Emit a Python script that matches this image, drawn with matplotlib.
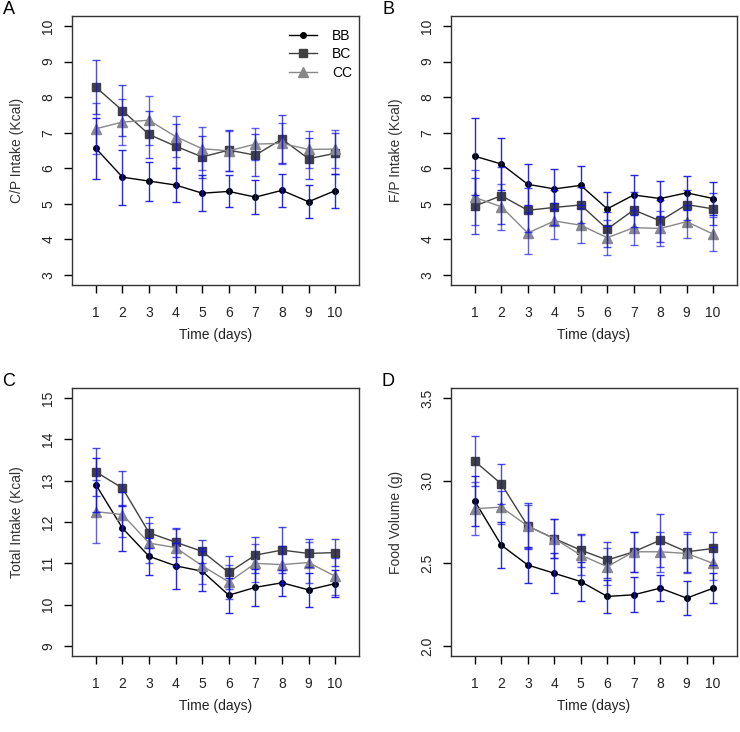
import matplotlib
matplotlib.use("Agg")
import matplotlib.pyplot as plt

plt.rcParams["font.family"] = ["Liberation Sans", "DejaVu Sans"]

days = [1, 2, 3, 4, 5, 6, 7, 8, 9, 10]
groups = ["BB", "BC", "CC"]

# A: C/P intake
cp_bb = [6.56, 5.75, 5.64, 5.53, 5.30, 5.35, 5.19, 5.38, 5.06, 5.37]
cp_bb_err = [0.85, 0.77, 0.55, 0.47, 0.50, 0.45, 0.48, 0.46, 0.47, 0.48]
cp_bc = [8.28, 7.62, 6.95, 6.62, 6.32, 6.51, 6.37, 6.82, 6.27, 6.42]
cp_bc_err = [0.76, 0.72, 0.67, 0.62, 0.59, 0.58, 0.59, 0.68, 0.57, 0.58]
cp_cc = [7.11, 7.30, 7.35, 6.89, 6.55, 6.49, 6.68, 6.70, 6.53, 6.54]
cp_cc_err = [0.72, 0.65, 0.69, 0.57, 0.60, 0.57, 0.45, 0.58, 0.53, 0.54]

# B: F/P intake
fp_bb = [6.34, 6.12, 5.55, 5.42, 5.52, 4.86, 5.25, 5.15, 5.31, 5.15]
fp_bb_err = [1.08, 0.74, 0.58, 0.56, 0.54, 0.47, 0.56, 0.48, 0.47, 0.46]
fp_bc = [4.94, 5.23, 4.82, 4.90, 4.97, 4.29, 4.83, 4.52, 4.98, 4.86]
fp_bc_err = [0.80, 0.80, 0.62, 0.50, 0.50, 0.49, 0.49, 0.60, 0.42, 0.45]
fp_cc = [5.18, 4.92, 4.18, 4.52, 4.40, 4.05, 4.33, 4.31, 4.50, 4.15]
fp_cc_err = [0.77, 0.65, 0.60, 0.51, 0.49, 0.50, 0.49, 0.50, 0.46, 0.48]

# C: total intake
tot_bb = [12.90, 11.85, 11.17, 10.94, 10.81, 10.23, 10.42, 10.53, 10.36, 10.51]
tot_bb_err = [0.65, 0.54, 0.44, 0.56, 0.48, 0.42, 0.44, 0.32, 0.41, 0.33]
tot_bc = [13.21, 12.82, 11.74, 11.51, 11.29, 10.78, 11.20, 11.32, 11.24, 11.26]
tot_bc_err = [0.58, 0.42, 0.38, 0.35, 0.28, 0.39, 0.43, 0.56, 0.34, 0.32]
tot_cc = [12.25, 12.18, 11.49, 11.38, 10.94, 10.55, 11.00, 10.97, 11.02, 10.69]
tot_cc_err = [0.76, 0.55, 0.49, 0.45, 0.43, 0.42, 0.46, 0.45, 0.50, 0.45]

# D: food volume
vol_bb = [2.876, 2.61, 2.49, 2.44, 2.39, 2.30, 2.31, 2.35, 2.29, 2.35]
vol_bb_err = [0.15, 0.14, 0.11, 0.12, 0.12, 0.10, 0.105, 0.08, 0.105, 0.09]
vol_bc = [3.117, 2.98, 2.725, 2.65, 2.58, 2.52, 2.57, 2.64, 2.57, 2.59]
vol_bc_err = [0.15, 0.12, 0.14, 0.12, 0.10, 0.11, 0.12, 0.16, 0.12, 0.10]
vol_cc = [2.83, 2.84, 2.725, 2.65, 2.55, 2.48, 2.57, 2.57, 2.56, 2.50]
vol_cc_err = [0.16, 0.10, 0.13, 0.12, 0.12, 0.11, 0.12, 0.12, 0.12, 0.10]

styles = {
    "BB": dict(color="black", marker="o", markersize=4),
    "BC": dict(color="#404040", marker="s", markersize=6),
    "CC": dict(color="#888888", marker="^", markersize=7),
}
err_alpha = {"BB": 0.9, "BC": 0.75, "CC": 0.65}

panels = [
    ("A", "C/P Intake (Kcal)", [cp_bb, cp_bc, cp_cc], [cp_bb_err, cp_bc_err, cp_cc_err],
     [3, 4, 5, 6, 7, 8, 9, 10], ["3", "4", "5", "6", "7", "8", "9", "10"]),
    ("B", "F/P Intake (Kcal)", [fp_bb, fp_bc, fp_cc], [fp_bb_err, fp_bc_err, fp_cc_err],
     [3, 4, 5, 6, 7, 8, 9, 10], ["3", "4", "5", "6", "7", "8", "9", "10"]),
    ("C", "Total Intake (Kcal)", [tot_bb, tot_bc, tot_cc], [tot_bb_err, tot_bc_err, tot_cc_err],
     [9, 10, 11, 12, 13, 14, 15], ["9", "10", "11", "12", "13", "14", "15"]),
    ("D", "Food Volume (g)", [vol_bb, vol_bc, vol_cc], [vol_bb_err, vol_bc_err, vol_cc_err],
     [2.0, 2.5, 3.0, 3.5], ["2.0", "2.5", "3.0", "3.5"]),
]

W, H = 740, 732
boxes = [
    (72, 16, 359, 285),
    (451, 16, 737, 285),
    (72, 388, 359, 656),
    (451, 388, 737, 656),
]

fig = plt.figure(figsize=(W / 100, H / 100), dpi=100)

for (letter, ylabel, means, errs, yticks, yticklabels), (x0, y0, x1, y1) in zip(panels, boxes):
    ax = fig.add_axes([x0 / W, 1 - y1 / H, (x1 - x0) / W, (y1 - y0) / H])
    for g, m, e in zip(groups, means, errs):
        ax.plot(days, m, linewidth=1, label=g, **styles[g])
    for g, m, e in zip(groups, means, errs):
        ax.errorbar(days, m, yerr=e, fmt="none", ecolor="#1010e0", elinewidth=1,
                    capsize=3, capthick=1, alpha=err_alpha[g])

    span = yticks[-1] - yticks[0]
    ax.set_ylim(yticks[0] - 0.04 * span, yticks[-1] + 0.04 * span)
    ax.set_xlim(0.1, 10.9)
    ax.set_xticks(days)
    ax.set_xticklabels([str(d) for d in days])
    ax.set_yticks(yticks)
    ax.set_yticklabels(yticklabels, rotation=90, va="center")
    ax.tick_params(direction="out", length=6, width=1, labelsize=10, pad=9,
                   labelcolor="#222222")
    ax.tick_params(axis="y", pad=6)
    for s in ax.spines.values():
        s.set_linewidth(1)
        s.set_color("#333333")

    ax.set_xlabel("Time (days)", fontsize=10, fontweight="normal", color="#222222",
                  va="center")
    ax.xaxis.set_label_coords(0.5, -50 / (y1 - y0))
    ax.set_ylabel(ylabel, fontsize=10, fontweight="normal", color="#333333", va="center")
    ax.yaxis.set_label_coords(-55 / (x1 - x0), 0.5)

    fig.text((x0 - 63) / W, 1 - (y0 - 7) / H, letter, fontsize=13, ha="center", va="center")

    if letter == "A":
        ax.legend(loc="upper right", frameon=False, fontsize=10, handlelength=2.0,
                  labelspacing=0.35, handletextpad=1.1, bbox_to_anchor=(1.02, 1.0))

fig.savefig("out.png", dpi=100)
